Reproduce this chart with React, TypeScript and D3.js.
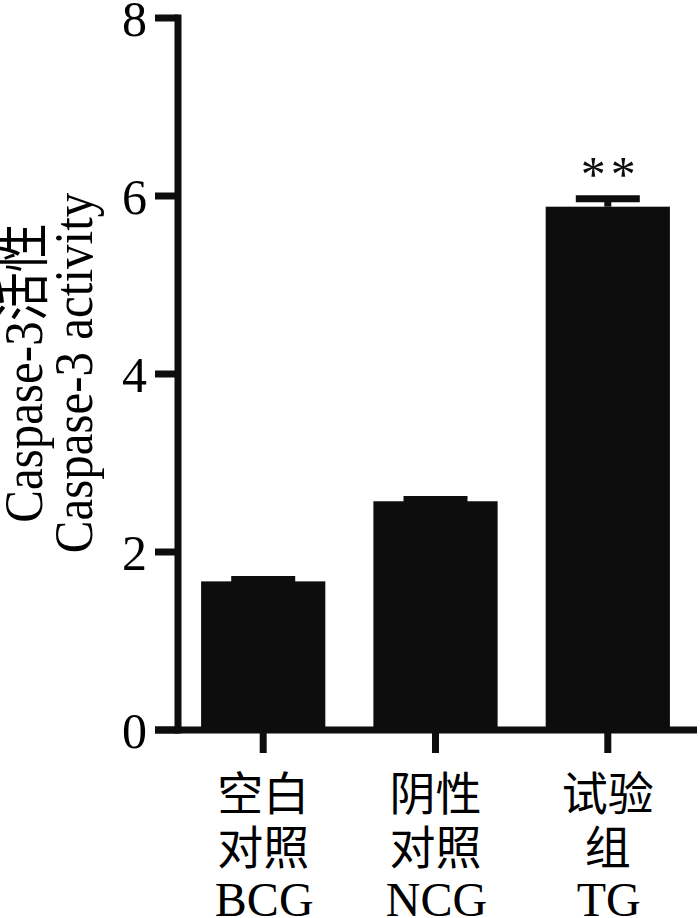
import React from "react";
import * as d3 from "d3";

const groupsLine1 = ["空白", "阴性", "试验"];
const groupsLine2 = ["对照", "对照", "组"];
const groupsCode = ["BCG", "NCG", "TG"];
const means = [1.67, 2.57, 5.88];
const errors = [0.02, 0.02, 0.09];
const significance = ["", "", "**"];
const yTicks = [0, 2, 4, 6, 8];
const yLabelLine1 = "Caspase-3活性";
const yLabelLine2 = "Caspase-3 activity";

const W = 700;
const H = 918;
const SERIF = "'Liberation Serif', 'Times New Roman', 'Noto Sans CJK SC', serif";
const CJK = "'Noto Sans CJK SC', 'Liberation Serif', sans-serif";
const INK = "#0d0d0d";

export default function App() {
  const axisX = 178;
  const y = d3.scaleLinear().domain([0, 8]).range([730, 18]);
  const x = d3
    .scaleBand<number>()
    .domain(means.map((_, i) => i))
    .range([178, 693])
    .paddingInner(0.279)
    .paddingOuter(0.134);
  const bw = x.bandwidth();
  const capW = 64;

  return (
    <div style={{ position: "absolute", left: 0, top: 0, width: W, height: H, background: "#fff" }}>
      <svg width={W} height={H} style={{ display: "block" }}>
        <rect width={W} height={H} fill="#fff" />
        {/* bars */}
        {means.map((m, i) => (
          <rect
            key={"b" + i}
            x={x(i)!}
            y={y(m)}
            width={bw}
            height={y(0) - y(m)}
            fill={INK}
          />
        ))}
        {/* error bars */}
        {means.map((m, i) => {
          const cx = x(i)! + bw / 2;
          return (
            <g key={"e" + i} stroke={INK} strokeWidth={7}>
              <line x1={cx} x2={cx} y1={y(m)} y2={y(m + errors[i])} />
              <line x1={cx - capW / 2} x2={cx + capW / 2} y1={y(m + errors[i])} y2={y(m + errors[i])} />
            </g>
          );
        })}
        {/* significance */}
        {means.map((m, i) =>
          significance[i] ? (
            <text
              key={"s" + i}
              x={x(i)! + bw / 2 + 3}
              y={191}
              textAnchor="middle"
              fontFamily={SERIF}
              fontSize={50}
              letterSpacing={5}
              fill={INK}
            >
              {significance[i]}
            </text>
          ) : null
        )}
        {/* y axis */}
        <line x1={axisX} x2={axisX} y1={y(8) - 3.5} y2={y(0) + 3.5} stroke={INK} strokeWidth={7} />
        {yTicks.map((t) => (
          <g key={"t" + t}>
            <line x1={155} x2={axisX} y1={y(t)} y2={y(t)} stroke={INK} strokeWidth={7} />
            <text
              x={147}
              y={y(t)}
              dy="0.35em"
              textAnchor="end"
              fontFamily={SERIF}
              fontSize={50}
              fill="#000"
            >
              {t}
            </text>
          </g>
        ))}
        {/* x axis */}
        <line x1={155} x2={697} y1={y(0)} y2={y(0)} stroke={INK} strokeWidth={7} />
        {means.map((_, i) => {
          const cx = x(i)! + bw / 2;
          return (
            <g key={"x" + i}>
              <line x1={cx} x2={cx} y1={y(0)} y2={753} stroke={INK} strokeWidth={7} />
              <text x={cx} y={810} textAnchor="middle" fontFamily={CJK} fontSize={46} fill="#000">
                {groupsLine1[i]}
              </text>
              <text x={cx} y={864} textAnchor="middle" fontFamily={CJK} fontSize={46} fill="#000">
                {groupsLine2[i]}
              </text>
              <text x={cx + 1} y={916} textAnchor="middle" fontFamily={SERIF} fontSize={48} fill="#000">
                {groupsCode[i]}
              </text>
            </g>
          );
        })}
        {/* y axis label */}
        <text
          transform={`translate(42, 373) rotate(-90) scale(1, 1.14)`}
          textAnchor="middle"
          fontFamily={SERIF}
          fontSize={49}
          fill="#000"
        >
          {yLabelLine1}
        </text>
        <text
          transform={`translate(92, 373) rotate(-90) scale(1, 1.14)`}
          textAnchor="middle"
          fontFamily={SERIF}
          fontSize={49}
          fill="#000"
        >
          {yLabelLine2}
        </text>
      </svg>
    </div>
  );
}
